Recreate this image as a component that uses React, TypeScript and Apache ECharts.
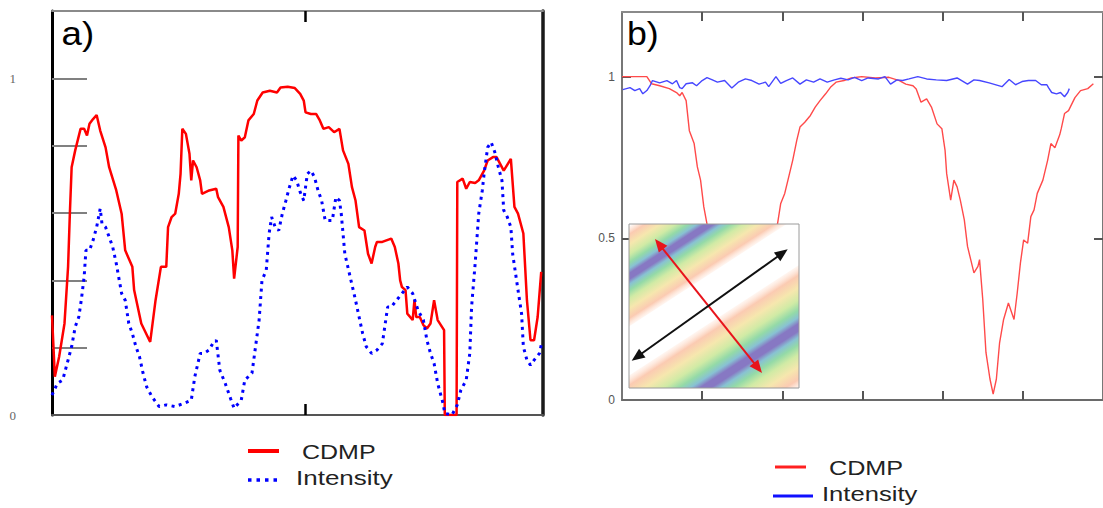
import React, { useEffect, useRef } from "react";
import * as echarts from "echarts";

// ---------- data ----------
const seriesNames = ["CDMP", "Intensity"];
const panelTitles = ["a)", "b)"];

// panel a: x = trace sample position (0..1375), y = normalised value
const cdmpA: [number, number][] = [
  [0, 0.296], [8, 0.114], [20, 0.173], [35, 0.272], [45, 0.44], [50, 0.598], [55, 0.736], [65, 0.786],
  [80, 0.85], [90, 0.85], [98, 0.83], [105, 0.865], [115, 0.879], [125, 0.891], [135, 0.845], [150, 0.795],
  [160, 0.736], [180, 0.667], [195, 0.598], [205, 0.489], [225, 0.44], [230, 0.371], [250, 0.272], [275, 0.217],
  [290, 0.341], [305, 0.44], [320, 0.44], [325, 0.558], [335, 0.588], [345, 0.598], [355, 0.657], [360, 0.716],
  [365, 0.85], [375, 0.835], [385, 0.776], [390, 0.697], [395, 0.756], [405, 0.736], [415, 0.697], [420, 0.657],
  [440, 0.667], [460, 0.672], [465, 0.647], [480, 0.618], [495, 0.558], [505, 0.489], [510, 0.405], [520, 0.499],
  [522, 0.83], [530, 0.815], [540, 0.825], [550, 0.875], [565, 0.894], [575, 0.934], [590, 0.958], [610, 0.963],
  [630, 0.958], [640, 0.973], [660, 0.975], [680, 0.971], [695, 0.954], [705, 0.934], [710, 0.899], [725, 0.894],
  [740, 0.894], [750, 0.875], [760, 0.85], [775, 0.855], [790, 0.84], [805, 0.85], [815, 0.786], [830, 0.746],
  [840, 0.677], [850, 0.637], [860, 0.558], [875, 0.548], [885, 0.479], [895, 0.45], [905, 0.499], [910, 0.514],
  [925, 0.514], [950, 0.524], [960, 0.499], [970, 0.45], [975, 0.4], [980, 0.38], [990, 0.371], [995, 0.301],
  [1010, 0.282], [1015, 0.341], [1020, 0.291], [1030, 0.291], [1040, 0.267], [1050, 0.257], [1060, 0.272],
  [1070, 0.341], [1080, 0.282], [1098, 0.252], [1100, 0], [1133, 0], [1135, 0.692], [1150, 0.702], [1160, 0.672],
  [1170, 0.692], [1185, 0.689], [1195, 0.697], [1210, 0.726], [1220, 0.756], [1235, 0.766], [1245, 0.766],
  [1255, 0.746], [1265, 0.726], [1285, 0.761], [1295, 0.618], [1305, 0.598], [1320, 0.539], [1330, 0.341],
  [1340, 0.222], [1350, 0.222], [1360, 0.291], [1370, 0.425],
];

const intensityA: [number, number][] = [
  [0, 0.059], [15, 0.094], [30, 0.104], [45, 0.163], [55, 0.203], [65, 0.262], [75, 0.291], [82, 0.341],
  [90, 0.41], [95, 0.489], [105, 0.489], [115, 0.519], [125, 0.558], [135, 0.613], [140, 0.568], [150, 0.558],
  [160, 0.529], [170, 0.499], [180, 0.45], [195, 0.361], [205, 0.341], [215, 0.272], [225, 0.242], [235, 0.203],
  [245, 0.173], [255, 0.124], [265, 0.084], [280, 0.054], [300, 0.025], [320, 0.03], [345, 0.025], [370, 0.035],
  [390, 0.044], [400, 0.114], [415, 0.183], [425, 0.183], [440, 0.193], [450, 0.212], [460, 0.222], [470, 0.133],
  [485, 0.094], [500, 0.049], [510, 0.02], [530, 0.044], [540, 0.104], [560, 0.124], [570, 0.203], [580, 0.282],
  [588, 0.4], [600, 0.43], [608, 0.539], [615, 0.588], [625, 0.558], [635, 0.548], [645, 0.598], [655, 0.637],
  [665, 0.677], [675, 0.711], [685, 0.697], [695, 0.662], [705, 0.637], [715, 0.716], [725, 0.726], [735, 0.707],
  [745, 0.667], [755, 0.637], [765, 0.578], [775, 0.578], [785, 0.578], [795, 0.647], [805, 0.637], [810, 0.598],
  [820, 0.479], [835, 0.41], [850, 0.341], [860, 0.291], [870, 0.242], [880, 0.203], [895, 0.183], [910, 0.193],
  [925, 0.212], [940, 0.321], [950, 0.321], [965, 0.341], [980, 0.361], [995, 0.38], [1010, 0.361], [1025, 0.311],
  [1040, 0.282], [1050, 0.222], [1060, 0.183], [1070, 0.153], [1080, 0.094], [1095, 0.035], [1100, 0.005],
  [1120, 0], [1135, 0.03], [1145, 0.074], [1160, 0.104], [1170, 0.183], [1175, 0.321], [1185, 0.45], [1195, 0.598],
  [1205, 0.667], [1210, 0.716], [1220, 0.795], [1230, 0.81], [1240, 0.781], [1250, 0.736], [1260, 0.697],
  [1265, 0.608], [1275, 0.588], [1285, 0.558], [1290, 0.479], [1305, 0.371], [1315, 0.301], [1320, 0.203],
  [1330, 0.163], [1340, 0.148], [1350, 0.163], [1365, 0.183], [1370, 0.208],
];

// panel b: x in tick units (0..6), y normalised
const cdmpB: [number, number][] = [
  [0, 1.0], [0.31, 1.0], [0.37, 0.978], [0.47, 0.972], [0.59, 0.963], [0.68, 0.951], [0.72, 0.941], [0.75, 0.951],
  [0.8, 0.926], [0.84, 0.833], [0.9, 0.793], [0.94, 0.721], [0.98, 0.68], [1.02, 0.598], [1.06, 0.545],
  [1.2, 0.35], [1.45, 0.12], [1.7, 0.3],
  [1.94, 0.545], [1.98, 0.608], [2.03, 0.639], [2.07, 0.68], [2.13, 0.742], [2.18, 0.803], [2.22, 0.844],
  [2.28, 0.859], [2.35, 0.88], [2.41, 0.906], [2.47, 0.926], [2.54, 0.947], [2.6, 0.967], [2.67, 0.983],
  [2.77, 0.988], [2.86, 0.996], [2.99, 1.0], [3.16, 0.996], [3.33, 0.998], [3.46, 0.988], [3.54, 0.977],
  [3.63, 0.972], [3.67, 0.962], [3.73, 0.921], [3.8, 0.931], [3.86, 0.906], [3.93, 0.854], [3.99, 0.839],
  [4.03, 0.772], [4.05, 0.7], [4.1, 0.618], [4.14, 0.68], [4.18, 0.659], [4.22, 0.618], [4.27, 0.557],
  [4.31, 0.475], [4.35, 0.434], [4.39, 0.393], [4.44, 0.413], [4.46, 0.434], [4.5, 0.311], [4.54, 0.147],
  [4.59, 0.065], [4.63, 0.018], [4.67, 0.065], [4.71, 0.177], [4.76, 0.249], [4.82, 0.3], [4.89, 0.249],
  [4.93, 0.331], [4.97, 0.424], [5.01, 0.495], [5.06, 0.485], [5.1, 0.567], [5.14, 0.588], [5.18, 0.639],
  [5.25, 0.68], [5.31, 0.742], [5.35, 0.793], [5.4, 0.78], [5.46, 0.82], [5.48, 0.84], [5.52, 0.886],
  [5.57, 0.895], [5.65, 0.935], [5.72, 0.957], [5.81, 0.963], [5.88, 0.978],
];

const intensityB: [number, number][] = [
  [0.01, 0.96], [0.1, 0.966], [0.16, 0.957], [0.22, 0.963], [0.26, 0.947], [0.31, 0.957], [0.35, 0.972],
  [0.38, 0.988], [0.47, 0.981], [0.56, 0.988], [0.63, 0.978], [0.68, 0.988], [0.72, 0.966], [0.75, 0.963],
  [0.8, 0.978], [0.88, 0.981], [0.93, 0.972], [1.0, 0.988], [1.06, 0.997], [1.12, 0.991], [1.19, 0.983],
  [1.28, 0.988], [1.37, 0.965], [1.45, 0.983], [1.54, 0.993], [1.62, 0.988], [1.71, 0.977], [1.79, 0.983],
  [1.83, 0.969], [1.92, 1.0], [1.98, 0.979], [2.05, 0.988], [2.13, 0.996], [2.22, 0.977], [2.3, 0.99],
  [2.39, 0.983], [2.47, 0.993], [2.56, 0.983], [2.65, 0.99], [2.73, 0.995], [2.82, 0.99], [2.9, 0.998],
  [2.99, 0.988], [3.07, 0.996], [3.2, 0.993], [3.28, 1.0], [3.35, 0.977], [3.43, 0.99], [3.5, 0.988],
  [3.58, 0.993], [3.69, 1.0], [3.8, 0.993], [3.92, 0.99], [4.05, 0.988], [4.18, 0.996], [4.31, 0.977],
  [4.39, 0.99], [4.46, 0.988], [4.58, 0.981], [4.74, 0.969], [4.83, 0.991], [4.91, 0.975], [4.99, 0.985],
  [5.07, 0.988], [5.16, 0.988], [5.23, 0.975], [5.3, 0.975], [5.32, 0.966], [5.36, 0.951], [5.42, 0.947],
  [5.47, 0.951], [5.52, 0.938], [5.56, 0.951], [5.58, 0.963],
];

const xTicksA = [710];
const yTicksA = [0.2, 0.4, 0.6, 0.8, 1];
const yLabelsA = [0, 1];
const xTicksB = [1, 2, 3, 4, 5];
const yTicksB = [0.5, 1];
const yLabelsB = [0, 0.5, 1];

// ---------- inset helpers ----------
type P = [number, number];
function clipHalf(poly: P[], nx: number, ny: number, c: number, sign: number): P[] {
  const out: P[] = [];
  for (let i = 0; i < poly.length; i++) {
    const a = poly[i];
    const b = poly[(i + 1) % poly.length];
    const da = (a[0] * nx + a[1] * ny - c) * sign;
    const db = (b[0] * nx + b[1] * ny - c) * sign;
    if (da >= 0) out.push(a);
    if ((da >= 0) !== (db >= 0)) {
      const t = da / (da - db);
      out.push([a[0] + (b[0] - a[0]) * t, a[1] + (b[1] - a[1]) * t]);
    }
  }
  return out;
}

function arrowEls(x1: number, y1: number, x2: number, y2: number, color: string, z: number) {
  const dx = x2 - x1, dy = y2 - y1;
  const len = Math.hypot(dx, dy);
  const ux = dx / len, uy = dy / len;
  const px = -uy, py = ux;
  const L = 13, W = 5.5;
  const head = (ex: number, ey: number, sx: number, sy: number) => {
    const bx = ex - sx * L, by = ey - sy * L;
    return {
      type: "polygon", z, silent: true,
      shape: { points: [[ex, ey], [bx + px * W, by + py * W], [bx - px * W, by - py * W]] },
      style: { fill: color },
    };
  };
  return [
    {
      type: "line", z, silent: true,
      shape: { x1: x1 + ux * (L - 2), y1: y1 + uy * (L - 2), x2: x2 - ux * (L - 2), y2: y2 - uy * (L - 2) },
      style: { stroke: color, lineWidth: 2 },
    },
    head(x2, y2, ux, uy),
    head(x1, y1, -ux, -uy),
  ];
}

function buildInset() {
  const ox = 629, oy = 224, w = 170, h = 164;
  const nx = 0.545, ny = 0.8385;
  const bands = [ { c: 44, hw: 42 }, { c: 179, hw: 52 } ];
  const rectPoly: P[] = [[0, 0], [w, 0], [w, h], [0, h]];
  const els: any[] = [
    { type: "rect", z: 100, silent: true, shape: { x: ox, y: oy, width: w, height: h }, style: { fill: "#ffffff" } },
  ];
  const half = [
    [0, "rgba(255,210,185,0.2)"],
    [0.08, "rgba(248,160,115,0.55)"],
    [0.18, "rgba(240,215,120,0.6)"],
    [0.28, "rgba(180,222,110,0.62)"],
    [0.36, "rgba(90,198,120,0.65)"],
    [0.42, "rgba(80,165,190,0.68)"],
    [0.47, "rgba(95,75,175,0.75)"],
  ] as [number, string][];
  const stops = [
    ...half.map(([o, c]) => ({ offset: o, color: c })),
    ...half.slice().reverse().map(([o, c]) => ({ offset: 1 - o, color: c })),
  ];
  bands.forEach((b) => {
    let poly = clipHalf(rectPoly, nx, ny, b.c - b.hw, 1);
    poly = clipHalf(poly, nx, ny, b.c + b.hw, -1);
    if (poly.length < 3) return;
    const pts = poly.map(([x, y]) => [ox + x, oy + y]);
    const g = new echarts.graphic.LinearGradient(
      ox + nx * (b.c - b.hw), oy + ny * (b.c - b.hw),
      ox + nx * (b.c + b.hw), oy + ny * (b.c + b.hw),
      stops, true
    );
    els.push({ type: "polygon", z: 101, silent: true, shape: { points: pts }, style: { fill: g } });
  });
  els.push(...arrowEls(ox + 26, oy + 15, ox + 133, oy + 149, "#e8141c", 102));
  els.push(...arrowEls(ox + 2.7, oy + 136.7, ox + 158.7, oy + 25.3, "#111111", 102));
  els.push({
    type: "rect", z: 103, silent: true, shape: { x: ox, y: oy, width: w, height: h },
    style: { fill: "none", stroke: "#9a9a9a", lineWidth: 1 },
  });
  return els;
}

function textEl(text: string, x: number, y: number, size: number, scaleX: number, fill: string) {
  return {
    type: "text", z: 110, silent: true, x, y, scaleX,
    style: { text, fontSize: size, fontFamily: "Liberation Sans, Arial, sans-serif", fill, verticalAlign: "middle", align: "left" },
  };
}

const near = (v: number, t: number) => Math.abs(v - t) < 1e-6;

export default function App() {
  const ref = useRef<HTMLDivElement>(null);
  useEffect(() => {
    if (!ref.current) return;
    const chart = echarts.init(ref.current, null, { renderer: "svg" });
    const hidden = { show: false };
    const option: any = {
      animation: false,
      backgroundColor: "#ffffff",
      grid: [
        { left: 52, top: 11, width: 491, height: 404 },
        { left: 622, top: 12, width: 486, height: 388 },
      ],
      xAxis: [
        {
          type: "value", gridIndex: 0, position: "bottom", min: 0, max: 1375, interval: 710,
          axisLine: { show: true, onZero: false, lineStyle: { color: "#555", width: 2 } },
          axisTick: { show: true, inside: true, length: 11, customValues: xTicksA, lineStyle: { color: "#000", width: 2.5 } },
          axisLabel: hidden, splitLine: hidden,
        },
        {
          type: "value", gridIndex: 0, position: "top", min: 0, max: 1375, interval: 710,
          axisLine: { show: true, onZero: false, lineStyle: { color: "#8a8a8a", width: 2 } },
          axisTick: { show: true, inside: true, length: 11, customValues: xTicksA, lineStyle: { color: "#000", width: 2.5 } },
          axisLabel: hidden, splitLine: hidden,
        },
        {
          type: "value", gridIndex: 1, position: "bottom", min: 0, max: 6, interval: 1,
          axisLine: { show: true, onZero: false, lineStyle: { color: "#6a6a6a", width: 2 } },
          axisTick: { show: true, inside: true, length: 9, customValues: xTicksB, lineStyle: { color: "#555", width: 2 } },
          axisLabel: hidden, splitLine: hidden,
        },
        {
          type: "value", gridIndex: 1, position: "top", min: 0, max: 6, interval: 1,
          axisLine: { show: true, onZero: false, lineStyle: { color: "#8a8a8a", width: 2 } },
          axisTick: { show: true, inside: true, length: 9, customValues: xTicksB, lineStyle: { color: "#555", width: 2 } },
          axisLabel: hidden, splitLine: hidden,
        },
      ],
      yAxis: [
        {
          type: "value", gridIndex: 0, position: "left", min: 0, max: 1.2, interval: 0.2,
          axisLine: { show: true, onZero: false, lineStyle: { color: "#000", width: 3 } },
          axisTick: { show: true, inside: true, length: 35, customValues: yTicksA, lineStyle: { color: "#808080", width: 2 } },
          axisLabel: {
            show: true, customValues: yLabelsA, margin: 36, color: "#666", fontSize: 13,
            fontFamily: "Liberation Serif, serif",
            formatter: (v: number) => (near(v, 0) ? "0" : near(v, 1) ? "1" : ""),
          },
          splitLine: hidden,
        },
        {
          type: "value", gridIndex: 0, position: "right", min: 0, max: 1.2, interval: 0.2,
          axisLine: { show: true, onZero: false, lineStyle: { color: "#1a1a1a", width: 3.5 } },
          axisTick: hidden, axisLabel: hidden, splitLine: hidden,
        },
        {
          type: "value", gridIndex: 1, position: "left", min: 0, max: 1.2, interval: 0.5,
          axisLine: { show: true, onZero: false, lineStyle: { color: "#777", width: 2 } },
          axisTick: { show: true, inside: true, length: 9, customValues: yTicksB, lineStyle: { color: "#555", width: 2 } },
          axisLabel: {
            show: true, customValues: yLabelsB, margin: 7, color: "#555", fontSize: 12,
            fontFamily: "Liberation Sans, Arial, sans-serif",
            formatter: (v: number) => (near(v, 0) ? "0" : near(v, 0.5) ? "0.5" : near(v, 1) ? "1" : ""),
          },
          splitLine: hidden,
        },
        {
          type: "value", gridIndex: 1, position: "right", min: 0, max: 1.2, interval: 0.5,
          axisLine: { show: true, onZero: false, lineStyle: { color: "#777", width: 2 } },
          axisTick: { show: true, inside: true, length: 9, customValues: yTicksB, lineStyle: { color: "#555", width: 2 } },
          axisLabel: hidden, splitLine: hidden,
        },
      ],
      series: [
        {
          name: seriesNames[0], type: "line", xAxisIndex: 0, yAxisIndex: 0, data: cdmpA,
          showSymbol: false, symbol: "none", lineStyle: { color: "#ff0000", width: 2.5 }, z: 3,
        },
        {
          name: seriesNames[1], type: "line", xAxisIndex: 0, yAxisIndex: 0, data: intensityA,
          showSymbol: false, symbol: "none", lineStyle: { color: "#0000ff", width: 3, type: [3, 4.5], cap: "butt" }, z: 4,
        },
        {
          name: seriesNames[0], type: "line", xAxisIndex: 2, yAxisIndex: 2, data: cdmpB,
          showSymbol: false, symbol: "none", lineStyle: { color: "#ff4a4a", width: 1.4 }, z: 3,
        },
        {
          name: seriesNames[1], type: "line", xAxisIndex: 2, yAxisIndex: 2, data: intensityB,
          showSymbol: false, symbol: "none", lineStyle: { color: "#4646ff", width: 1.4 }, z: 4,
        },
      ],
      graphic: {
        elements: [
          ...buildInset(),
          textEl(panelTitles[0], 61.5, 33, 34, 1.08, "#000"),
          textEl(panelTitles[1], 627, 33, 34, 1.05, "#000"),
          { type: "line", z: 110, silent: true, shape: { x1: 248, y1: 451, x2: 279, y2: 451 }, style: { stroke: "#ff0000", lineWidth: 4 } },
          { type: "line", z: 110, silent: true, shape: { x1: 248, y1: 480, x2: 281, y2: 480 }, style: { stroke: "#0000ff", lineWidth: 3.5, lineDash: [3.5, 5] } },
          textEl(seriesNames[0], 302, 452, 20, 1.25, "#222"),
          textEl(seriesNames[1], 296, 478, 20, 1.3, "#222"),
          { type: "line", z: 110, silent: true, shape: { x1: 775, y1: 467, x2: 806, y2: 467 }, style: { stroke: "#ff2020", lineWidth: 3 } },
          { type: "line", z: 110, silent: true, shape: { x1: 773, y1: 496, x2: 813, y2: 496 }, style: { stroke: "#1010ff", lineWidth: 3 } },
          textEl(seriesNames[0], 829, 468, 20, 1.26, "#222"),
          textEl(seriesNames[1], 822, 494.5, 20, 1.28, "#222"),
        ],
      },
    };
    chart.setOption(option);
    return () => chart.dispose();
  }, []);
  return (
    <div
      ref={ref}
      style={{ position: "absolute", left: 0, top: 0, width: 1103, height: 508, background: "#fff" }}
    />
  );
}
